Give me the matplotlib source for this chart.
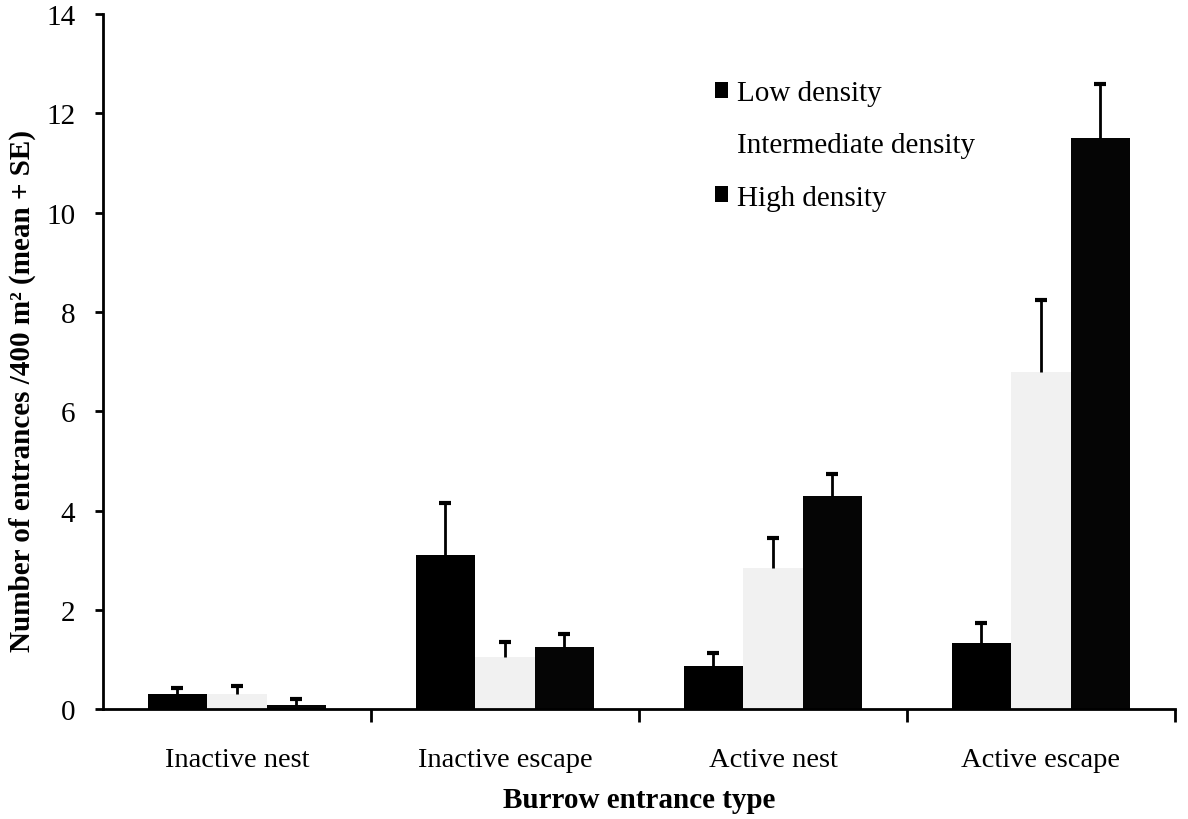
import matplotlib
matplotlib.use("Agg")
import matplotlib.pyplot as plt
import numpy as np
from matplotlib.patches import Patch

# Burrow entrance counts per 400 m2 (mean and upper SE bound)
categories = ["Inactive nest", "Inactive escape", "Active nest", "Active escape"]
series = ["Low density", "Intermediate density", "High density"]

low_mean = [0.30, 3.11, 0.87, 1.33]
low_top = [0.42, 4.16, 1.13, 1.74]
mid_mean = [0.30, 1.05, 2.85, 6.78]
mid_top = [0.46, 1.35, 3.45, 8.24]
high_mean = [0.08, 1.25, 4.30, 11.50]
high_top = [0.20, 1.52, 4.73, 12.60]

yticks = [0, 2, 4, 6, 8, 10, 12, 14]

plt.rcParams["font.family"] = ["Liberation Serif", "DejaVu Serif"]

fig = plt.figure(figsize=(11.88, 8.2), dpi=100)
ax = fig.add_axes([0.0867, 0.134, 0.9023, 0.8477])

colors = ["#000000", "#f1f1f1", "#050505"]
means = [low_mean, mid_mean, high_mean]
tops = [low_top, mid_top, high_top]
width = 0.222
offsets = [-0.222, 0.0, 0.222]
x = np.arange(len(categories))

for m, t, c, off, name in zip(means, tops, colors, offsets, series):
    m = np.array(m)
    t = np.array(t)
    ax.bar(x + off, m, width=width, color=c, edgecolor="none", label=name, zorder=2)
    # upward-only error bar with a cap at the top
    ax.vlines(x + off, m, t, color="black", linewidth=2, zorder=3)
    ax.plot(x + off, t, linestyle="none", marker="_", markersize=9,
            markeredgewidth=3, color="black", zorder=3)

ax.set_xlim(-0.5, 3.5)
ax.set_ylim(0, 14)
ax.set_yticks(yticks)
ax.set_yticklabels([str(v) for v in yticks], fontsize=21)

# group boundaries as major ticks, category names at centres
ax.set_xticks([0.5, 1.5, 2.5, 3.5])
ax.set_xticklabels([])
ax.set_xticks(x, minor=True)
ax.set_xticklabels(categories, minor=True, fontsize=20.5)
ax.tick_params(axis="x", which="major", direction="out", length=9, width=2)
ax.tick_params(axis="x", which="minor", length=0, pad=27)
ax.tick_params(axis="y", direction="out", length=6, width=2, pad=14)

for side in ["top", "right"]:
    ax.spines[side].set_visible(False)
for side in ["left", "bottom"]:
    ax.spines[side].set_linewidth(2)

ax.set_xlabel("Burrow entrance type", fontsize=21, fontweight="bold")
ax.xaxis.label.set_verticalalignment("center")
ax.xaxis.set_label_coords(0.5, -0.1295)
ax.set_ylabel("Number of entrances /400 m² (mean + SE)", fontsize=21,
              fontweight="bold")
ax.yaxis.label.set_verticalalignment("center")
ax.yaxis.set_label_coords(-0.0756, 0.459)

handles = [Patch(facecolor=c, edgecolor="none") for c in ["#000000", "#ffffff", "#000000"]]
fig.legend(handles, series, loc="upper left", bbox_to_anchor=(0.58, 0.933),
           frameon=False, fontsize=21, handlelength=0.45, handleheight=0.45,
           handletextpad=0.3, labelspacing=0.9)

fig.savefig("out.png", dpi=100)
